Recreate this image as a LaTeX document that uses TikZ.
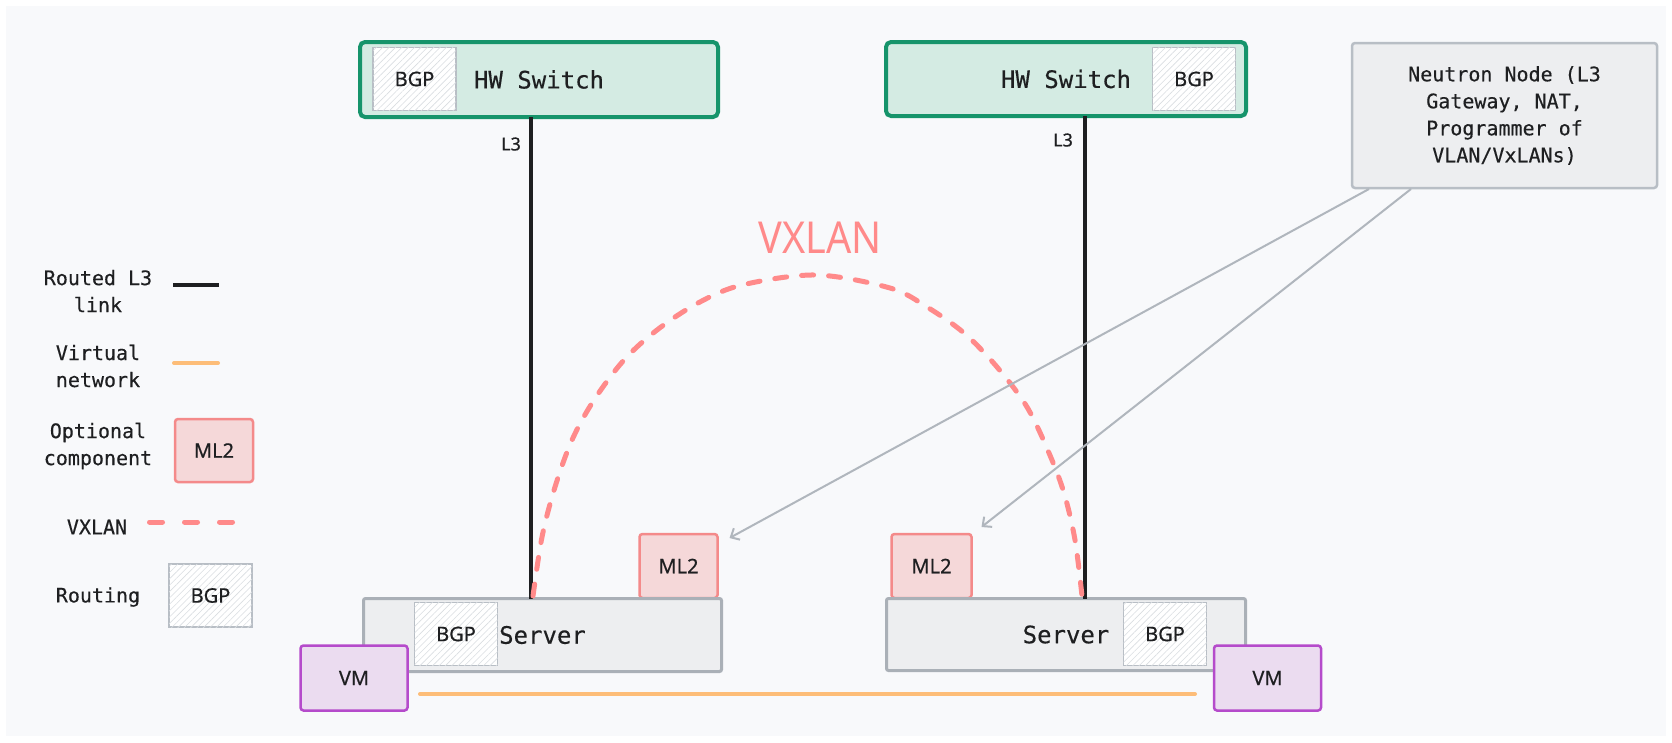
\documentclass[tikz,border=0pt]{standalone}
\usepackage{fontspec}
\setmainfont{Noto Sans}
\setmonofont{DejaVu Sans Mono}[FakeBold=0.35]
\newfontfamily\labelfont{Noto Sans}[FakeBold=0.5]
\usetikzlibrary{arrows.meta,patterns.meta,calc}

\definecolor{pagebg}{HTML}{F8F9FB}
\definecolor{ink}{HTML}{1E1F21}
\definecolor{switchline}{HTML}{16946B}
\definecolor{switchfill}{HTML}{D4EBE3}
\definecolor{bgpline}{HTML}{B8BEC5}
\definecolor{hatch}{HTML}{DADDE1}
\definecolor{greyfill}{HTML}{EDEEF0}
\definecolor{greyline}{HTML}{AAB0B7}
\definecolor{mlfill}{HTML}{F5D8D9}
\definecolor{mlline}{HTML}{F48A8A}
\definecolor{vmfill}{HTML}{EBDCF0}
\definecolor{vmline}{HTML}{B54BCB}
\definecolor{vnet}{HTML}{FDBD78}
\definecolor{vxred}{HTML}{FF8A8A}
\definecolor{arrowgrey}{HTML}{B0B6BD}

\begin{document}
\begin{tikzpicture}[x=1pt,y=-1pt,
  box/.style={draw, inner sep=0pt, outer sep=0pt, rounded corners=3pt, text=ink},
  monoL/.style={font=\ttfamily\fontsize{24}{28}\selectfont},
  monoS/.style={font=\ttfamily\fontsize{20}{27}\selectfont},
  sansS/.style={font=\labelfont\fontsize{20}{22}\selectfont},
  switchbox/.style={box, draw=switchline, fill=switchfill, line width=4pt, rounded corners=5pt, monoL},
  bgpbox/.style={box, draw=bgpline, line width=1.5pt, rounded corners=0pt, fill=white,
    postaction={pattern={Lines[angle=45,distance=4.5pt,line width=0.6pt]}, pattern color=hatch},
    minimum width=83pt, minimum height=63pt, sansS},
  serverbox/.style={box, draw=greyline, fill=greyfill, line width=3pt, rounded corners=2pt, monoL},
  mlbox/.style={box, draw=mlline, fill=mlfill, line width=2.5pt, sansS},
  vmbox/.style={box, draw=vmline, fill=vmfill, line width=2.5pt, sansS,
    minimum width=107pt, minimum height=65pt},
  legendtext/.style={monoS, align=center, text=ink},
  l3link/.style={draw=ink, line width=4pt},
  vnetlink/.style={draw=vnet, line width=4pt, line cap=round},
  vxlink/.style={draw=vxred, line width=5pt, line cap=round},
  ctrl/.style={draw=arrowgrey, line width=2pt, -{Straight Barb[length=7pt,width=13pt,line width=2pt]}},
  l3lab/.style={font=\labelfont\fontsize{18}{20}\selectfont, text=ink}
]
\useasboundingbox (0,0) rectangle (1672,742);
\fill[white] (0,0) rectangle (1672,742);
\fill[pagebg] (6,6) rectangle (1666,736);

% ---- hardware switches ----
\node[switchbox, minimum width=358pt, minimum height=75pt] (swL) at (539,79.5) {HW Switch};
\node[bgpbox] (bgpSwL) at (414.5,79) {BGP};
\node[switchbox, minimum width=360pt, minimum height=74pt] (swR) at (1066,79) {HW Switch};
\node[bgpbox] (bgpSwR) at (1194,79) {BGP};

% ---- neutron node ----
\node[box, draw=bgpline, fill=greyfill, line width=2.5pt, minimum width=305pt, minimum height=145pt,
      monoS, align=center] (neutron) at (1504.5,115.5)
  {Neutron Node (L3\\Gateway, NAT,\\Programmer of\\VLAN/VxLANs)};

% ---- optional ML2 components ----
\node[mlbox, minimum width=78pt, minimum height=64pt] (ml2L) at (678.5,566) {ML2};
\node[mlbox, minimum width=80pt, minimum height=64pt] (ml2R) at (931.5,566) {ML2};

% ---- servers ----
\node[serverbox, minimum width=358pt, minimum height=73pt] (srvL) at (542.5,635) {Server};
\node[bgpbox] (bgpSrvL) at (456,634) {BGP};
\node[serverbox, minimum width=359pt, minimum height=72pt] (srvR) at (1066,634.5) {Server};
\node[bgpbox] (bgpSrvR) at (1165,634) {BGP};

% ---- virtual machines ----
\node[vmbox] (vmL) at (354,678) {VM};
\node[vmbox] (vmR) at (1267.5,678) {VM};

% ---- routed L3 uplinks ----
\coordinate (upL) at (531,0);
\coordinate (upR) at (1085,0);
\draw[l3link] (swL.south -| upL) -- (srvL.north -| upL);
\draw[l3link] (swR.south -| upR) -- (srvR.north -| upR);
\node[l3lab] (labL3a) at (511,144) {L3};
\node[l3lab] (labL3b) at (1063,140) {L3};

% ---- VXLAN tunnel between the servers ----
\draw[vxlink, dash pattern=on 12pt off 15pt]
  plot[smooth, tension=0.55] coordinates {(533,596) (542,537) (555,487) (572,440) (594,400) (624,360)
    (657,330) (698,303) (742,285) (816,275) (890,288) (927,307) (964,333) (997,367) (1027,407)
    (1049,453) (1064,493) (1075,540) (1082,596)};
\node[font=\fontsize{44}{48}\selectfont, text=vxred, xscale=0.9] (vxlabel) at (820,238) {VXLAN};

% ---- virtual network between the VMs ----
\coordinate (vnA) at (420,694);
\coordinate (vnB) at (1195,694);
\draw[vnetlink] (vnA) -- (vnB);

% ---- neutron programs the ML2 agents ----
\draw[ctrl] ($(neutron.south west)+(17,1)$) -- ($(ml2L.north east)+(12,4)$);
\draw[ctrl] ($(neutron.south west)+(59,1)$) -- ($(ml2R.north east)+(10,-7)$);

% ---- legend ----
\node[legendtext] (lgA) at (98,291) {Routed L3\\link};
\coordinate (lgA1) at (173,285); \coordinate (lgA2) at (219,285);
\draw[l3link] (lgA1) -- (lgA2);

\node[legendtext] (lgB) at (98,366) {Virtual\\network};
\coordinate (lgB1) at (174,363); \coordinate (lgB2) at (218,363);
\draw[vnetlink] (lgB1) -- (lgB2);

\node[legendtext] (lgC) at (98,446) {Optional\\component};
\node[mlbox, minimum width=78pt, minimum height=63pt] (lgCbox) at (214,450.5) {ML2};

\node[legendtext] (lgD) at (97,527) {VXLAN};
\coordinate (lgD1) at (149.5,522); \coordinate (lgD2) at (232.5,522);
\draw[vxlink, dash pattern=on 13pt off 22pt] (lgD1) -- (lgD2);

\node[legendtext] (lgE) at (98,597) {Routing};
\node[bgpbox] (lgEbox) at (210.5,595.5) {BGP};
\end{tikzpicture}
\end{document}
